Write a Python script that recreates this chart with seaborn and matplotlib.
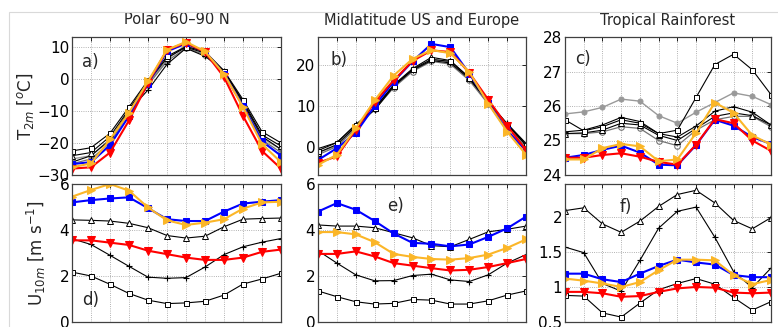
import numpy as np
import pandas as pd
import seaborn as sns
import matplotlib
matplotlib.use("Agg")
import matplotlib.pyplot as plt
from matplotlib.patches import Rectangle

months = list(range(1, 13))

# ---- T2m (top row) ----
t2m_polar = dict(
    squares=[-22.5, -21.5, -17, -8.8, -0.5, 7, 10, 8.5, 2.5, -6.5, -16.5, -20],
    triangles=[-24, -23, -18, -9.5, -1, 6.5, 9.8, 8, 2, -7, -17.5, -21],
    plus=[-26, -24, -19, -10, -3.5, 4.5, 9.5, 7, 2.5, -7.5, -18, -22],
    circles=[-26.5, -25, -20, -10.5, -2, 5.5, 9.5, 7.5, 1.5, -8, -19, -23],
    gray=[-25, -24, -19, -10, -1.5, 6, 10.5, 8, 2, -7.5, -18.5, -22],
    blue=[-26.6, -26, -20.7, -11.6, -1.5, 8.5, 11, 8.5, 1.5, -8.5, -19.5, -24],
    orange=[-27.6, -26.4, -18.9, -10.6, -0.8, 9, 11.5, 8.5, 1.5, -8.8, -20.4, -26],
    red=[-28, -27.6, -23, -13, -1.3, 9, 11.2, 8.3, 0.5, -11.6, -22.5, -28],
)
t2m_midlat = dict(
    squares=[-1, 1, 5.3, 9.5, 15, 19, 21.5, 21, 17, 11, 5.5, 0.5],
    triangles=[-1.5, 0.5, 5, 9.5, 15.2, 19.2, 22, 21.2, 17, 11, 5.5, 0.3],
    plus=[-0.5, 1, 5.5, 9, 14.8, 18.8, 21.2, 20.6, 16.7, 11, 5.7, 0.8],
    circles=[-2, 0, 4.5, 9.2, 14.5, 18.5, 21, 20.3, 16.3, 10.5, 5, -0.3],
    gray=[-1.5, 0.2, 4.8, 9.5, 15, 19, 21.5, 20.8, 16.8, 10.8, 5.2, 0.2],
    blue=[-3.3, -0.4, 3.4, 10, 16, 21, 25.3, 24.5, 18, 10.8, 4, -1],
    orange=[-4.5, -2, 4.5, 11.4, 17.5, 21.6, 23.8, 23, 18.4, 10.6, 3.7, -2],
    red=[-4, -2.4, 4.2, 11, 16.3, 21.1, 23.7, 23.3, 18.2, 11.6, 5.1, -0.8],
)
t2m_tropic = dict(
    squares=[25.6, 25.28, 25.4, 25.6, 25.5, 25.2, 25.3, 26.25, 27.2, 27.5, 27.05, 26.33],
    triangles=[25.2, 25.22, 25.3, 25.5, 25.45, 25.15, 25.0, 25.35, 25.7, 25.8, 25.72, 25.45],
    plus=[25.25, 25.3, 25.45, 25.67, 25.55, 25.2, 25.1, 25.42, 25.85, 25.98, 25.82, 25.45],
    circles=[25.2, 25.2, 25.25, 25.4, 25.35, 25.0, 24.85, 25.3, 25.6, 25.7, 25.7, 25.4],
    gray=[25.77, 25.83, 25.96, 26.2, 26.14, 25.72, 25.5, 25.82, 26.1, 26.38, 26.28, 26.04],
    blue=[24.5, 24.58, 24.73, 24.85, 24.65, 24.3, 24.28, 24.87, 25.6, 25.43, 25.1, 24.9],
    orange=[24.45, 24.45, 24.78, 24.9, 24.83, 24.4, 24.45, 25.22, 26.1, 25.8, 25.15, 24.88],
    red=[24.5, 24.5, 24.58, 24.63, 24.53, 24.38, 24.3, 24.88, 25.62, 25.5, 25.0, 24.7],
)

# ---- U10m (bottom row) ----
u10_polar = dict(
    squares=[2.17, 2.0, 1.64, 1.24, 0.95, 0.8, 0.83, 0.9, 1.17, 1.65, 1.87, 2.12],
    triangles=[4.44, 4.42, 4.39, 4.29, 4.1, 3.76, 3.65, 3.73, 4.14, 4.47, 4.5, 4.52],
    plus=[3.62, 3.37, 2.9, 2.42, 1.95, 1.9, 1.93, 2.39, 2.93, 3.27, 3.47, 3.63],
    blue=[5.2, 5.3, 5.37, 5.42, 4.95, 4.47, 4.39, 4.39, 4.8, 5.15, 5.23, 5.3],
    orange=[5.45, 5.74, 6.0, 5.71, 4.98, 4.42, 4.22, 4.32, 4.47, 4.93, 5.2, 5.23],
    red=[3.55, 3.55, 3.45, 3.35, 3.1, 2.95, 2.8, 2.7, 2.7, 2.8, 3.05, 3.15],
)
u10_midlat = dict(
    squares=[1.35, 1.1, 0.88, 0.78, 0.81, 0.98, 0.95, 0.78, 0.78, 0.92, 1.17, 1.35],
    triangles=[4.22, 4.17, 4.17, 4.1, 3.88, 3.66, 3.32, 3.27, 3.59, 3.92, 4.03, 4.17],
    plus=[3.1, 2.56, 2.05, 1.79, 1.8, 2.02, 2.08, 1.83, 1.76, 2.05, 2.56, 2.93],
    blue=[4.8, 5.17, 4.88, 4.39, 3.85, 3.44, 3.4, 3.29, 3.37, 3.7, 4.07, 4.58],
    orange=[3.91, 3.91, 3.81, 3.47, 2.96, 2.83, 2.74, 2.71, 2.78, 2.93, 3.22, 3.59],
    red=[2.96, 2.96, 3.07, 2.85, 2.56, 2.45, 2.34, 2.24, 2.27, 2.39, 2.56, 2.74],
)
u10_tropic = dict(
    squares=[0.88, 0.87, 0.63, 0.57, 0.77, 0.96, 1.05, 1.12, 1.04, 0.85, 0.67, 0.79],
    triangles=[2.09, 2.13, 1.9, 1.78, 1.94, 2.15, 2.32, 2.38, 2.2, 1.95, 1.83, 1.99],
    plus=[1.57, 1.49, 1.05, 0.94, 1.38, 1.84, 2.08, 2.14, 1.71, 1.22, 0.99, 1.27],
    blue=[1.19, 1.19, 1.11, 1.07, 1.19, 1.3, 1.39, 1.35, 1.32, 1.17, 1.14, 1.14],
    orange=[1.12, 1.09, 1.05, 1.0, 1.07, 1.24, 1.39, 1.39, 1.38, 1.17, 1.04, 1.1],
    red=[0.93, 0.93, 0.91, 0.86, 0.87, 0.93, 0.98, 1.0, 0.99, 0.92, 0.91, 0.92],
)

titles = ["Polar  60\u201390 N", "Midlatitude US and Europe", "Tropical Rainforest"]
panel_labels = ["a)", "b)", "c)", "d)", "e)", "f)"]

styles = {
    'squares':   dict(color='black', marker='s', markerfacecolor='white', markeredgecolor='black',
                      markersize=3.6, markeredgewidth=0.7, linewidth=0.8),
    'triangles': dict(color='black', marker='^', markerfacecolor='white', markeredgecolor='black',
                      markersize=4.2, markeredgewidth=0.7, linewidth=0.8),
    'plus':      dict(color='black', marker='+', markeredgecolor='black',
                      markersize=5, markeredgewidth=0.8, linewidth=0.8),
    'circles':   dict(color='0.45', marker='o', markerfacecolor='none', markeredgecolor='0.45',
                      markersize=4, markeredgewidth=0.8, linewidth=0.9),
    'gray':      dict(color='0.6', marker='o', markerfacecolor='0.6', markeredgecolor='0.6',
                      markersize=3.6, linewidth=1.0),
    'blue':      dict(color='#0000ff', marker='s', markerfacecolor='#0000ff', markeredgecolor='#0000ff',
                      markersize=4.5, linewidth=1.5),
    'orange':    dict(color='#fbb628', marker='>', markerfacecolor='#fbb628', markeredgecolor='#fbb628',
                      markersize=6, linewidth=1.5),
    'red':       dict(color='#ff0000', marker='v', markerfacecolor='#ff0000', markeredgecolor='#ff0000',
                      markersize=6, linewidth=1.5),
}
draw_order = ['gray', 'circles', 'plus', 'triangles', 'squares', 'blue', 'red', 'orange']

sns.set_theme(style="white")
plt.rcParams['font.family'] = ['DejaVu Sans']
plt.rcParams['font.size'] = 10

fig = plt.figure(figsize=(7.78, 3.27), dpi=100)
W, H = 778, 327
lefts = [72, 318, 565]
widths = [209, 208, 206]
row_tops = [37, 184]
row_h = 138

panels = [t2m_polar, t2m_midlat, t2m_tropic, u10_polar, u10_midlat, u10_tropic]
ylims = [(-30, 13), (-7, 27), (24, 28), (0, 6), (0, 6), (0.5, 2.47)]
yticks = [[-30, -20, -10, 0, 10], [0, 10, 20], [24, 25, 26, 27, 28],
          [0, 2, 4, 6], [0, 2, 4, 6], [0.5, 1, 1.5, 2]]
yticklabels = [None, None, None, None, None, ['0.5', '1', '1.5', '2']]
label_pos = [(0.05, 0.82), (0.058, 0.83), (0.05, 0.84), (0.05, 0.16), (0.33, 0.84), (0.267, 0.83)]

for i, data in enumerate(panels):
    r, c = divmod(i, 3)
    top = row_tops[r]
    ax = fig.add_axes([lefts[c] / W, 1 - (top + row_h) / H, widths[c] / W, row_h / H])
    for key in draw_order:
        if key not in data:
            continue
        df = pd.DataFrame({'month': months, 'value': data[key]})
        sns.lineplot(data=df, x='month', y='value', ax=ax, **styles[key])
    ax.set_xlim(1, 12)
    ax.set_ylim(*ylims[i])
    ax.set_xticks(months)
    ax.set_xticklabels([])
    ax.set_yticks(yticks[i])
    if yticklabels[i] is not None:
        ax.set_yticklabels(yticklabels[i])
    ax.set_xlabel('')
    ax.set_ylabel('')
    ax.grid(True, linestyle=':', color='0.6', linewidth=0.6)
    ax.tick_params(direction='in', top=True, right=True, length=3, width=0.6,
                   labelsize=11, pad=2, colors='black')
    for sp in ax.spines.values():
        sp.set_color('0.25')
        sp.set_linewidth(0.9)
    ax.text(label_pos[i][0], label_pos[i][1], panel_labels[i], transform=ax.transAxes,
            fontsize=12, va='center', ha='left')
    if r == 0:
        ax.set_title(titles[c], fontsize=10.5, pad=9)
    if c == 0:
        if r == 0:
            ax.set_ylabel(r'T$_{2m}$ [$^o$C]', fontsize=12)
            ax.yaxis.set_label_coords(-0.17, 0.5)
        else:
            ax.set_ylabel(r'U$_{10m}$ [m s$^{-1}$]', fontsize=12)
            ax.yaxis.set_label_coords(-0.115, 0.5)

fig.add_artist(Rectangle((9 / W, -0.1), 1.2, 1 - 12 / H + 0.1, transform=fig.transFigure,
                         fill=False, edgecolor='0.85', linewidth=0.8))

fig.savefig('out.png', dpi=100)
